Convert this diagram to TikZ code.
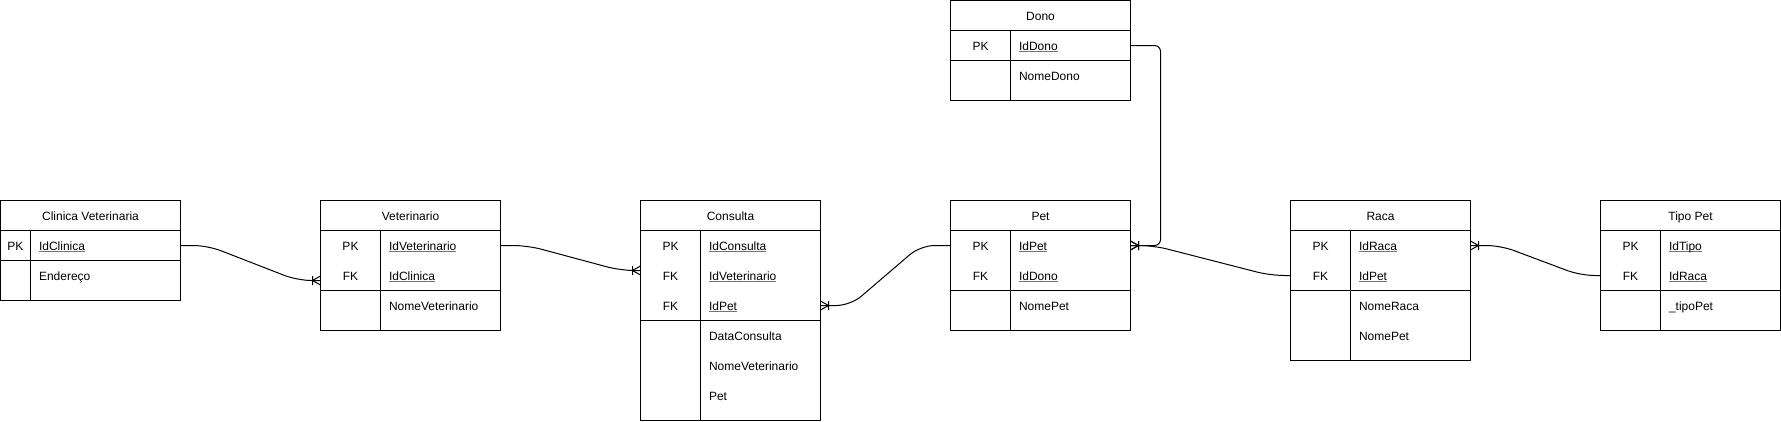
\documentclass[tikz,border=0pt]{standalone}
\usepackage{fontspec}
\setmainfont{Liberation Sans}
\usetikzlibrary{positioning}

\newcommand{\tblfont}{\fontsize{12pt}{14pt}\selectfont}
% underline at a fixed depth
\newcommand{\uln}[1]{\setbox0\hbox{#1}\rlap{\color{black!55}\rule[-2.2pt]{\wd0}{0.9pt}}\box0}

% crow's foot with bar (one-to-many)
\pgfdeclarearrow{
  name = crow,
  setup code = {
    \pgfarrowssettipend{0pt}
    \pgfarrowssetlineend{0pt}
    \pgfarrowssetbackend{-8pt}
    \pgfarrowssetvisualbackend{-8pt}
    \pgfarrowsupperhullpoint{0pt}{4.5pt}
    \pgfarrowsupperhullpoint{-8pt}{4.5pt}
  },
  drawing code = {
    \pgfsetdash{}{0pt}
    \pgfpathmoveto{\pgfqpoint{-8pt}{0pt}}
    \pgfpathlineto{\pgfqpoint{0pt}{4.5pt}}
    \pgfpathmoveto{\pgfqpoint{-8pt}{0pt}}
    \pgfpathlineto{\pgfqpoint{0pt}{-4.5pt}}
    \pgfpathmoveto{\pgfqpoint{-8pt}{-4.5pt}}
    \pgfpathlineto{\pgfqpoint{-8pt}{4.5pt}}
    \pgfusepathqstroke
  }
}

\begin{document}
\begin{tikzpicture}[x=1pt,y=-1pt,line width=1pt,
    tbl/.style={draw,rectangle,minimum width=180pt,inner sep=0pt,outer sep=0pt},
    hdr/.style={tbl,minimum height=30pt,font=\tblfont,text height=9pt,text depth=0pt},
    key/.style={font=\tblfont,inner sep=0pt,text height=9pt,text depth=0pt},
    fld/.style={key,anchor=west},
    rel/.style={-crow,rounded corners=14pt}]
  \useasboundingbox (-0.5,-0.5) rectangle (1780.5,420.5);

  % Clinica Veterinaria
  \node[hdr] (cli) at (90,215) {Clinica Veterinaria};
  \node[tbl,minimum height=30pt,below=0pt of cli] (cliK) {};
  \node[tbl,minimum height=40pt,below=0pt of cliK] (cliA) {};
  \draw ([xshift=30pt]cliK.north west) -- ([xshift=30pt]cliA.south west);
  \node[key] (cliPK) at (15,245) {PK};
  \node[fld] (cliId)  at (38,245) {\uln{IdClinica}};
  \node[fld] (cliEnd) at (38,275) {Endereço};

  % Veterinario
  \node[hdr] (vet) at (410,215) {Veterinario};
  \node[tbl,minimum height=60pt,below=0pt of vet] (vetK) {};
  \node[tbl,minimum height=40pt,below=0pt of vetK] (vetA) {};
  \draw ([xshift=60pt]vetK.north west) -- ([xshift=60pt]vetA.south west);
  \node[key] (vetPK) at (350,245) {PK};
  \node[key] (vetFK) at (350,275) {FK};
  \node[fld] (vetId)   at (388,245) {\uln{IdVeterinario}};
  \node[fld] (vetCli)  at (388,275) {\uln{IdClinica}};
  \node[fld] (vetNome) at (388,305) {NomeVeterinario};

  % Consulta
  \node[hdr] (con) at (730,215) {Consulta};
  \node[tbl,minimum height=90pt,below=0pt of con] (conK) {};
  \node[tbl,minimum height=100pt,below=0pt of conK] (conA) {};
  \draw ([xshift=60pt]conK.north west) -- ([xshift=60pt]conA.south west);
  \node[key] (conPK)  at (670,245) {PK};
  \node[key] (conFK1) at (670,275) {FK};
  \node[key] (conFK2) at (670,305) {FK};
  \node[fld] (conId)   at (708,245) {\uln{IdConsulta}};
  \node[fld] (conVet)  at (708,275) {\uln{IdVeterinario}};
  \node[fld] (conPet)  at (708,305) {\uln{IdPet}};
  \node[fld] (conData) at (708,335) {DataConsulta};
  \node[fld] (conNome) at (708,365) {NomeVeterinario};
  \node[fld] (conP)    at (708,395) {Pet};

  % Dono
  \node[hdr] (dono) at (1040,15) {Dono};
  \node[tbl,minimum height=30pt,below=0pt of dono] (donoK) {};
  \node[tbl,minimum height=40pt,below=0pt of donoK] (donoA) {};
  \draw ([xshift=60pt]donoK.north west) -- ([xshift=60pt]donoA.south west);
  \node[key] (donoPK) at (980,45) {PK};
  \node[fld] (donoId)   at (1018,45) {\uln{IdDono}};
  \node[fld] (donoNome) at (1018,75) {NomeDono};

  % Pet
  \node[hdr] (pet) at (1040,215) {Pet};
  \node[tbl,minimum height=60pt,below=0pt of pet] (petK) {};
  \node[tbl,minimum height=40pt,below=0pt of petK] (petA) {};
  \draw ([xshift=60pt]petK.north west) -- ([xshift=60pt]petA.south west);
  \node[key] (petPK) at (980,245) {PK};
  \node[key] (petFK) at (980,275) {FK};
  \node[fld] (petId)   at (1018,245) {\uln{IdPet}};
  \node[fld] (petDono) at (1018,275) {\uln{IdDono}};
  \node[fld] (petNome) at (1018,305) {NomePet};

  % Raca
  \node[hdr] (raca) at (1380,215) {Raca};
  \node[tbl,minimum height=60pt,below=0pt of raca] (racaK) {};
  \node[tbl,minimum height=70pt,below=0pt of racaK] (racaA) {};
  \draw ([xshift=60pt]racaK.north west) -- ([xshift=60pt]racaA.south west);
  \node[key] (racaPK) at (1320,245) {PK};
  \node[key] (racaFK) at (1320,275) {FK};
  \node[fld] (racaId)   at (1358,245) {\uln{IdRaca}};
  \node[fld] (racaPet)  at (1358,275) {\uln{IdPet}};
  \node[fld] (racaNome) at (1358,305) {NomeRaca};
  \node[fld] (racaNP)   at (1358,335) {NomePet};

  % Tipo Pet
  \node[hdr] (tipo) at (1690,215) {Tipo Pet};
  \node[tbl,minimum height=60pt,below=0pt of tipo] (tipoK) {};
  \node[tbl,minimum height=40pt,below=0pt of tipoK] (tipoA) {};
  \draw ([xshift=60pt]tipoK.north west) -- ([xshift=60pt]tipoA.south west);
  \node[key] (tipoPK) at (1630,245) {PK};
  \node[key] (tipoFK) at (1630,275) {FK};
  \node[fld] (tipoId)   at (1668,245) {\uln{IdTipo}};
  \node[fld] (tipoRaca) at (1668,275) {\uln{IdRaca}};
  \node[fld] (tipoNome) at (1668,305) {\_tipoPet};

  % relations
  \draw[rel] (cliK.east) -- ++(27,0)
    -- ([xshift=-23pt,yshift=10pt]vetK.south west) -- ([yshift=10pt]vetK.south west);
  \draw[rel] ([yshift=-15pt]vetK.north east) -- ++(27,0)
    -- ([xshift=-20pt,yshift=5pt]conK.west) -- ([yshift=5pt]conK.west);
  \draw[rel] ([yshift=-15pt]petK.north west) -- ++(-30,0)
    -- ([xshift=30pt,yshift=15pt]conK.south east) -- ([yshift=15pt]conK.south east);
  \draw[rel,rounded corners=6pt] (donoK.east) -- ++(30,0) |- ([yshift=-15pt]petK.north east);
  \draw[rel] ([yshift=15pt]racaK.south west) -- ++(-20,0)
    -- ([xshift=23pt,yshift=-15pt]petK.north east) -- ([yshift=-15pt]petK.north east);
  \draw[rel] ([yshift=15pt]tipoK.south west) -- ++(-20,0)
    -- ([xshift=30pt,yshift=-15pt]racaK.north east) -- ([yshift=-15pt]racaK.north east);
\end{tikzpicture}
\end{document}
